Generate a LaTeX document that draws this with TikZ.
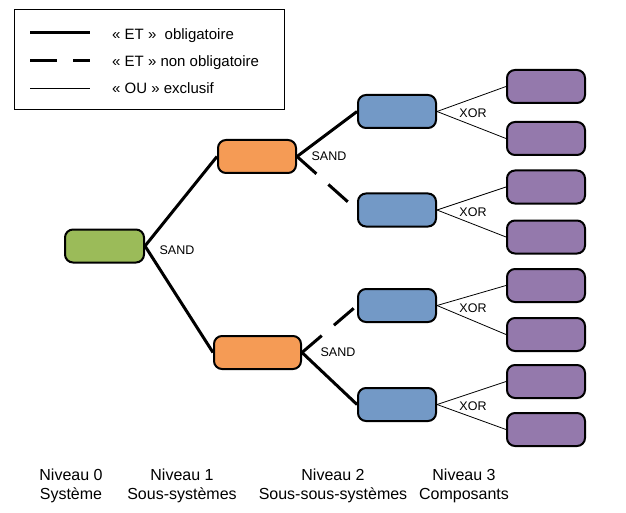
\documentclass[tikz,border=0pt]{standalone}
\usepackage{fontspec}
\setmainfont{Liberation Sans}
\usepackage{tikz}
\usetikzlibrary{calc}
\usepackage{xcolor}
\definecolor{niv0}{HTML}{9BBB59}
\definecolor{niv1}{HTML}{F59B55}
\definecolor{niv2}{HTML}{7399C6}
\definecolor{niv3}{HTML}{9479AC}

\begin{document}
\begin{tikzpicture}[x=1pt,y=-1pt,
                    my box/.style={
                        draw,
                        line width=2pt,
                        rounded corners=8pt,
                        minimum width=78pt,
                        minimum height=33pt},
                    my and/.style={line width=3pt},
                    my opt/.style={line width=3pt,dash pattern=on 26pt off 16pt},
                    my or/.style={line width=0.8pt},
                    my label/.style={font=\fontsize{12.5}{14}\selectfont},
                    my legend/.style={anchor=base west,inner sep=0pt,font=\fontsize{15}{17}\selectfont},
                    my level/.style={align=center,font=\fontsize{16}{19}\selectfont}]
\useasboundingbox (0,0) rectangle (626,513); % same size as the original
% legend
\draw[line width=1pt] (14,10) rectangle (284,110);
\draw[my and] (30,33) -- (90,33);
\draw[my opt,dash pattern=on 27pt off 16pt] (30,61) -- (90,61);
\draw[my or] (30,88) -- (90,88);
\node[my legend] (leg and) at (112,40) {« ET »\ \ obligatoire};
\node[my legend] (leg opt) at (112,67) {« ET » non obligatoire};
\node[my legend] (leg or) at (112,94) {« OU » exclusif};
% level 0 and 1
\node[my box,fill=niv0,minimum width=79pt] (sys) at (104.5,246) {};
\node[my box,fill=niv1] (ss top) at (257,156.5) {};
\node[my box,fill=niv1,minimum width=87pt] (ss bot) at (257.5,352.5) {};
% level 2
\node[my box,fill=niv2] (sss1) at (397,111.5) {};
\node[my box,fill=niv2] (sss2) at (397,210) {};
\node[my box,fill=niv2] (sss3) at (397,305.5) {};
\node[my box,fill=niv2] (sss4) at (397,404.5) {};
% level 3
\node[my box,fill=niv3] (c1) at (546,86.5) {};
\node[my box,fill=niv3] (c2) at (546,138.5) {};
\node[my box,fill=niv3] (c3) at (546,187) {};
\node[my box,fill=niv3] (c4) at (546,237) {};
\node[my box,fill=niv3] (c5) at (546,285.5) {};
\node[my box,fill=niv3] (c6) at (546,334.5) {};
\node[my box,fill=niv3] (c7) at (546,381.5) {};
\node[my box,fill=niv3] (c8) at (546,429.5) {};
% the links
\draw[my and] (sys.east) -- (ss top.west);
\draw[my and] (sys.east) -- (ss bot.west);
\draw[my and] (ss top.east) -- (sss1.west);
\draw[my opt] (ss top.east) -- (sss2.west);
\draw[my opt] (ss bot.east) -- (sss3.west);
\draw[my and] (ss bot.east) -- (sss4.west);
\foreach \i/\a/\b in {1/1/2,2/3/4,3/5/6,4/7/8}{
  \draw[my or] (sss\i.east) -- (c\a.west);
  \draw[my or] (sss\i.east) -- (c\b.west);
}
\node[my label] (sand0) at (177,250) {SAND};
\node[my label] (sand1) at (329,156) {SAND};
\node[my label] (sand2) at (338,352) {SAND};
\node[my label] (xor1) at (473,113) {XOR};
\node[my label] (xor2) at (473,212) {XOR};
\node[my label] (xor3) at (473,308) {XOR};
\node[my label] (xor4) at (473,406) {XOR};
% levels under the tree
\node[my level] (lev0) at (71,486) {Niveau 0\\Système};
\node[my level] (lev1) at (182,486) {Niveau 1\\Sous-systèmes};
\node[my level] (lev2) at (333,486) {Niveau 2\\Sous-sous-systèmes};
\node[my level] (lev3) at (464,486) {Niveau 3\\Composants};
\end{tikzpicture}
\end{document}
